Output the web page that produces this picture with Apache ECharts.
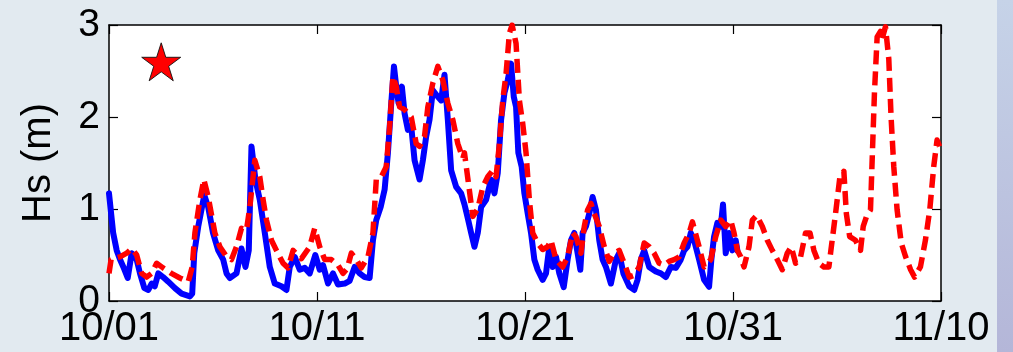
<!DOCTYPE html>
<html>
<head>
<meta charset="utf-8">
<script src="https://cdn.jsdelivr.net/npm/echarts@6/dist/echarts.min.js"></script>
<style>
html,body{margin:0;padding:0;}
body{width:1013px;height:352px;background:#e2eaf0;position:relative;overflow:hidden;}
#strip{position:absolute;left:997px;top:0;width:16px;height:352px;background:linear-gradient(#c6d3e8,#b4b6d8);}
#chart{position:absolute;left:0;top:0;width:1013px;height:352px;}
</style>
</head>
<body>
<div id="strip"></div>
<div id="chart"></div>
<script>
// x values are days since 10/01 00:00
const tickLabels = ['10/01', '10/11', '10/21', '10/31', '11/10'];
const yTicks = ['0', '1', '2', '3'];

const observedDays = [0.00,0.20,0.37,0.53,0.69,0.90,1.09,1.33,1.49,1.70,1.89,2.05,2.20,2.37,2.60,2.85,3.17,3.49,3.89,4.00,4.10,4.29,4.58,4.77,5.00,5.25,5.49,5.65,5.81,6.13,6.37,6.56,6.72,6.85,7.04,7.25,7.49,7.73,7.97,8.29,8.53,8.69,8.93,9.17,9.41,9.65,9.92,10.13,10.29,10.53,10.77,11.01,11.33,11.57,11.81,12.05,12.29,12.53,12.69,12.85,13.06,13.25,13.41,13.57,13.70,13.81,13.92,14.08,14.21,14.37,14.53,14.69,14.93,15.09,15.25,15.41,15.57,15.81,15.97,16.13,16.29,16.45,16.69,16.93,17.09,17.25,17.41,17.57,17.73,17.89,18.13,18.37,18.53,18.69,18.85,19.01,19.17,19.33,19.46,19.57,19.68,19.84,19.97,20.13,20.29,20.45,20.61,20.85,21.01,21.17,21.33,21.49,21.65,21.86,22.05,22.21,22.37,22.53,22.66,22.77,22.93,23.09,23.25,23.41,23.57,23.73,23.89,24.13,24.37,24.53,24.73,25.01,25.25,25.41,25.57,25.73,25.97,26.29,26.53,26.77,27.01,27.25,27.49,27.65,27.81,27.97,28.13,28.37,28.61,28.85,28.96,29.09,29.25,29.41,29.52,29.65,29.81,29.97,30.13,30.21];
const observedHs = [1.17,0.74,0.55,0.45,0.37,0.25,0.52,0.45,0.30,0.14,0.12,0.19,0.16,0.30,0.26,0.21,0.14,0.08,0.05,0.08,0.52,0.81,1.15,1.02,0.74,0.55,0.45,0.30,0.25,0.30,0.57,0.37,0.55,1.68,1.32,1.10,0.74,0.37,0.19,0.16,0.12,0.37,0.48,0.34,0.36,0.30,0.50,0.34,0.39,0.19,0.30,0.18,0.19,0.22,0.37,0.30,0.26,0.25,0.66,0.88,1.02,1.21,1.61,2.15,2.55,2.33,2.15,2.33,2.04,1.86,1.90,1.53,1.32,1.53,1.79,1.97,2.29,2.22,2.18,2.46,1.97,1.42,1.24,1.17,1.05,0.90,0.74,0.59,0.74,1.02,1.10,1.32,1.17,1.39,1.97,2.26,2.40,2.58,2.22,2.11,1.61,1.46,1.17,0.95,0.74,0.45,0.34,0.23,0.30,0.59,0.37,0.48,0.30,0.15,0.45,0.66,0.74,0.52,0.34,0.74,0.81,0.95,1.13,0.99,0.66,0.45,0.37,0.19,0.45,0.52,0.30,0.16,0.12,0.23,0.45,0.55,0.37,0.32,0.30,0.26,0.37,0.36,0.45,0.55,0.59,0.74,0.66,0.45,0.23,0.155,0.45,0.70,0.85,0.81,1.05,0.52,0.74,0.55,0.66,0.55];

const modelDays = [0.00,0.10,0.20,0.53,0.85,1.09,1.33,1.57,1.81,2.05,2.29,2.60,3.00,3.41,3.81,4.00,4.13,4.37,4.56,4.77,5.09,5.33,5.60,5.89,6.13,6.37,6.61,6.77,7.01,7.25,7.41,7.57,7.81,8.05,8.37,8.61,8.85,9.25,9.65,9.89,10.13,10.37,10.69,11.01,11.25,11.45,11.65,11.89,12.13,12.45,12.69,12.85,13.09,13.33,13.49,13.65,13.81,13.97,14.21,14.53,14.77,14.93,15.17,15.33,15.57,15.81,16.05,16.29,16.53,16.77,17.01,17.09,17.49,17.73,17.97,18.21,18.45,18.61,18.77,18.93,19.09,19.25,19.38,19.57,19.73,19.89,20.05,20.21,20.37,20.61,20.85,21.09,21.25,21.49,21.81,22.05,22.29,22.45,22.69,22.85,23.01,23.17,23.33,23.57,23.81,24.05,24.29,24.53,24.77,25.01,25.25,25.49,25.73,25.97,26.21,26.45,26.69,26.93,27.17,27.41,27.65,27.89,28.05,28.37,28.61,28.93,29.17,29.41,29.65,29.89,30.05,30.21,30.37,30.53,30.77,30.93,31.14,31.41,31.65,31.89,32.13,32.37,32.61,32.80,33.01,33.25,33.49,33.70,33.89,34.13,34.37,34.61,34.69,34.93,35.14,35.33,35.45,35.61,35.89,36.13,36.26,36.42,36.61,36.69,36.80,36.93,37.09,37.17,37.33,37.49,37.60,37.73,37.89,38.09,38.30,38.54,38.73,39.01,39.25,39.46,39.65,39.81,39.93];
const modelHs = [0.30,0.45,0.46,0.48,0.52,0.57,0.50,0.30,0.26,0.30,0.41,0.36,0.30,0.25,0.21,0.37,0.74,1.10,1.32,1.13,0.74,0.59,0.50,0.45,0.59,0.79,0.77,1.02,1.53,1.35,1.10,0.88,0.66,0.55,0.41,0.36,0.55,0.46,0.59,0.79,0.59,0.45,0.45,0.39,0.30,0.35,0.52,0.45,0.36,0.48,0.74,1.32,1.35,1.46,1.89,2.44,2.33,2.11,2.08,2.00,1.71,1.68,1.79,2.11,2.37,2.55,2.40,2.15,1.97,1.71,1.55,1.61,0.92,1.00,1.24,1.35,1.42,1.35,1.71,2.18,2.47,2.91,3.00,2.80,2.18,1.93,1.61,1.10,0.74,0.63,0.56,0.59,0.66,0.45,0.37,0.48,0.74,0.70,0.52,0.81,0.99,1.06,0.95,0.81,0.59,0.43,0.52,0.55,0.41,0.26,0.28,0.37,0.63,0.59,0.52,0.41,0.39,0.43,0.45,0.48,0.63,0.74,0.86,0.59,0.37,0.45,0.70,0.88,0.81,0.88,0.74,0.55,0.48,0.37,0.59,0.88,0.93,0.81,0.66,0.55,0.45,0.34,0.52,0.59,0.41,0.48,0.74,0.74,0.55,0.41,0.37,0.37,0.52,0.95,1.35,1.41,0.95,0.70,0.66,0.55,0.81,0.92,0.99,1.53,2.26,2.87,2.93,2.85,2.98,2.63,2.00,1.46,0.99,0.63,0.48,0.34,0.26,0.37,0.66,0.99,1.46,1.75,1.68];

const markerDay = [2.51];
const markerHs = [2.60];

const pair = (xs, ys) => xs.map((x, i) => [x, ys[i]]);

const chart = echarts.init(document.getElementById('chart'), null, {renderer: 'canvas'});
const FONT = '"Liberation Sans", Arial, sans-serif';
const frameLine = {show: true, onZero: false, lineStyle: {color: '#000', width: 1.5}};
const starPath = 'path://M50,0 L61.2,34.5 L97.6,34.5 L68.2,55.9 L79.4,90.5 L50,69.1 L20.6,90.5 L31.8,55.9 L2.4,34.5 L38.8,34.5 Z';

chart.setOption({
  animation: false,
  grid: {left: 109, right: 72, top: 25, bottom: 51, show: true, backgroundColor: '#ffffff', borderWidth: 0},
  xAxis: [
    {type: 'value', min: 0, max: 40, interval: 10, position: 'bottom',
     axisLine: frameLine,
     axisTick: {show: true, inside: true, length: 9, lineStyle: {color: '#000', width: 1.2}},
     axisLabel: {show: true, margin: 8, fontSize: 40, color: '#000', fontFamily: FONT,
                 formatter: v => tickLabels[Math.round(v / 10)]},
     splitLine: {show: false}},
    {type: 'value', min: 0, max: 40, interval: 10, position: 'top',
     axisLine: frameLine,
     axisTick: {show: true, inside: true, length: 9, lineStyle: {color: '#000', width: 1.2}},
     axisLabel: {show: false}, splitLine: {show: false}}
  ],
  yAxis: [
    {type: 'value', min: 0, max: 3, interval: 1, position: 'left',
     name: 'Hs (m)', nameLocation: 'middle', nameGap: 50,
     nameTextStyle: {fontSize: 40, color: '#000', fontFamily: FONT},
     axisLine: frameLine,
     axisTick: {show: true, inside: true, length: 9, lineStyle: {color: '#000', width: 1.2}},
     axisLabel: {show: true, margin: 9, fontSize: 39, color: '#000', fontFamily: FONT,
                 formatter: v => yTicks[Math.round(v)]},
     splitLine: {show: false}},
    {type: 'value', min: 0, max: 3, interval: 1, position: 'right',
     axisLine: frameLine,
     axisTick: {show: true, inside: true, length: 9, lineStyle: {color: '#000', width: 1.2}},
     axisLabel: {show: false}, splitLine: {show: false}}
  ],
  series: [
    {name: 'Observed', type: 'line', xAxisIndex: 0, yAxisIndex: 0,
     data: pair(observedDays, observedHs), showSymbol: false, smooth: false,
     clip: true, z: 2,
     lineStyle: {color: '#0000ff', width: 6, cap: 'round', join: 'round'}},
    {name: 'Model', type: 'line', xAxisIndex: 0, yAxisIndex: 0,
     data: pair(modelDays, modelHs), showSymbol: false, smooth: false,
     clip: true, z: 3,
     lineStyle: {color: '#ff0000', width: 5.5, type: [14, 7], cap: 'butt', join: 'round'}},
    {name: 'Site', type: 'scatter', xAxisIndex: 0, yAxisIndex: 0,
     data: pair(markerDay, markerHs), symbol: starPath, symbolSize: [39, 38], z: 4,
     itemStyle: {color: '#ff0000', opacity: 1, borderColor: '#111', borderWidth: 0.9}}
  ]
});
</script>
</body>
</html>
